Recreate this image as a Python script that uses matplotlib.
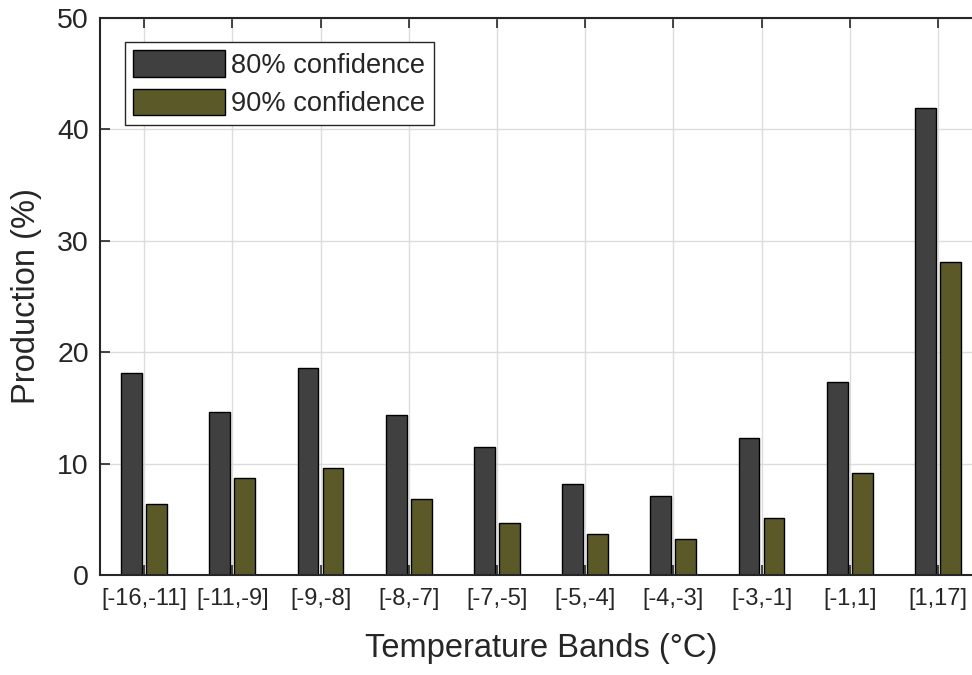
import numpy as np
import matplotlib.pyplot as plt

plt.rcParams['font.family'] = ['Liberation Sans', 'DejaVu Sans']

bands = ['[-16,-11]', '[-11,-9]', '[-9,-8]', '[-8,-7]', '[-7,-5]',
         '[-5,-4]', '[-4,-3]', '[-3,-1]', '[-1,1]', '[1,17]']
conf80 = [18.1, 14.6, 18.6, 14.4, 11.5, 8.2, 7.1, 12.3, 17.3, 41.9]
conf90 = [6.4, 8.7, 9.6, 6.8, 4.7, 3.7, 3.2, 5.1, 9.2, 28.1]

txt = '#262626'

fig = plt.figure(figsize=(9.72, 6.75), dpi=100)
ax = fig.add_axes([100 / 972, 100 / 675, 882 / 972, 557 / 675])

x = np.arange(1, len(bands) + 1)
w = 0.235
off = 0.142
ax.bar(x - off, conf80, w, color='#404040', edgecolor='black', linewidth=1.0,
       label='80% confidence', zorder=3)
ax.bar(x + off, conf90, w, color='#5a5927', edgecolor='black', linewidth=1.0,
       label='90% confidence', zorder=3)

ax.set_xlim(0.5, 10.5)
ax.set_ylim(0, 50)
ax.set_xticks(x)
ax.set_xticklabels(bands, fontsize=17, color=txt)
ax.set_yticks(range(0, 51, 10))
ax.tick_params(axis='y', labelsize=20.5, labelcolor=txt)
ax.tick_params(direction='in', length=7, width=1.2, color=txt,
               top=True, right=True, zorder=4)
ax.tick_params(axis='x', pad=9)
ax.tick_params(axis='y', pad=8)

ax.grid(True, color='#dcdcdc', linewidth=1.0, zorder=0)
ax.set_axisbelow(True)
for s in ax.spines.values():
    s.set_color(txt)
    s.set_linewidth(1.5)
    s.set_zorder(5)

ax.set_xlabel('Temperature Bands (°C)', fontsize=23.5, color=txt)
ax.set_ylabel('Production (%)', fontsize=23.5, color=txt)
ax.xaxis.set_label_coords(0.5, -0.105)
ax.yaxis.set_label_coords(-0.0658, 0.5)

leg = ax.legend(loc='upper left', bbox_to_anchor=(0.0287, 0.9564),
                fontsize=19.6, frameon=True, fancybox=False, framealpha=1,
                edgecolor=txt, handlelength=3.35, handleheight=1.1,
                handletextpad=0.25, labelspacing=0.37, borderpad=0.3,
                borderaxespad=0)
leg.get_frame().set_linewidth(1.0)
for t in leg.get_texts():
    t.set_color(txt)

fig.savefig('out.png', dpi=100)
